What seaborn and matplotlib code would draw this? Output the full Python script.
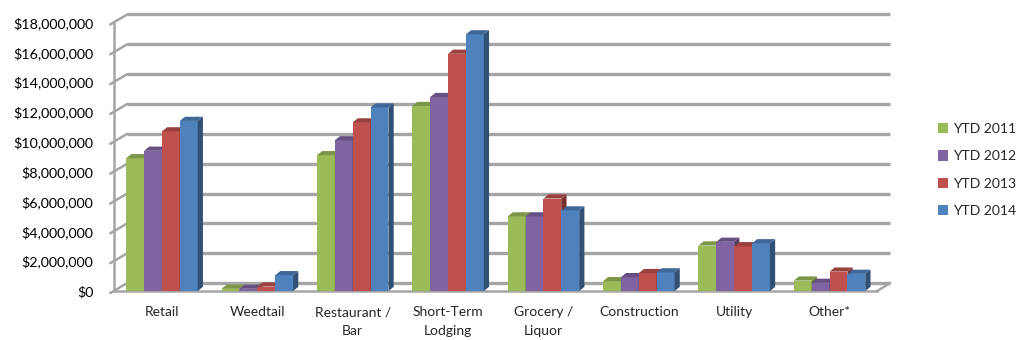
import numpy as np
import pandas as pd
import matplotlib
matplotlib.use("Agg")
import matplotlib.pyplot as plt
import matplotlib.transforms as mtransforms
from matplotlib.patches import Polygon
from matplotlib.ticker import FuncFormatter
import matplotlib.colors as mcolors
import seaborn as sns

categories = ["Retail", "Weedtail", "Restaurant /\nBar", "Short-Term\nLodging",
              "Grocery /\nLiquor", "Construction", "Utility", "Other*"]
series = ["YTD 2011", "YTD 2012", "YTD 2013", "YTD 2014"]
ytd_2011 = [8.9e6, 0.15e6, 9.1e6, 12.4e6, 5.0e6, 0.66e6, 3.05e6, 0.70e6]
ytd_2012 = [9.4e6, 0.15e6, 10.1e6, 13.0e6, 5.0e6, 0.93e6, 3.3e6, 0.55e6]
ytd_2013 = [10.7e6, 0.30e6, 11.3e6, 15.9e6, 6.2e6, 1.2e6, 3.0e6, 1.3e6]
ytd_2014 = [11.4e6, 1.06e6, 12.3e6, 17.2e6, 5.4e6, 1.25e6, 3.2e6, 1.15e6]
colors = ["#9BBB59", "#8064A2", "#C0504D", "#4F81BD"]
y_ticks = [0, 2e6, 4e6, 6e6, 8e6, 10e6, 12e6, 14e6, 16e6, 18e6]

df = pd.DataFrame({
    "Category": categories * 4,
    "Series": sum([[s] * len(categories) for s in series], []),
    "Value": ytd_2011 + ytd_2012 + ytd_2013 + ytd_2014,
})

sns.set_style("white")
plt.rcParams["font.family"] = ["Lato", "DejaVu Sans"]

fig = plt.figure(figsize=(10.2, 3.4), dpi=100)
ax = fig.add_axes([0.112, 0.144, 0.748, 0.79])

sns.barplot(data=df, x="Category", y="Value", hue="Series", palette=colors,
            width=0.75, saturation=1, ax=ax, zorder=3, edgecolor="none")

ax.set_xlim(-0.5, len(categories) - 0.5)
ax.set_ylim(0, 18e6)
ax.set_xlabel("")
ax.set_ylabel("")

grid_c = "#A5A5A5"
back = mtransforms.offset_copy(ax.transData, fig=fig, x=13, y=8, units="dots")
x0, x1 = ax.get_xlim()
inv = ax.transData.inverted()
for v in y_ticks:
    ax.plot([x0, x1], [v, v], transform=back, color=grid_c, lw=2.4,
            zorder=1, clip_on=False, solid_capstyle="butt")
    p_front = ax.transData.transform((x0, v))
    p_back = back.transform((x0, v))
    a = inv.transform(p_front + np.array([-4, -2]))
    b = inv.transform(p_back)
    ax.plot([a[0], b[0]], [a[1], b[1]], color=grid_c, lw=1.8, zorder=1, clip_on=False)
a = inv.transform(ax.transData.transform((x1, 0)))
b = inv.transform(back.transform((x1, 0)))
ax.plot([a[0], b[0]], [a[1], b[1]], color=grid_c, lw=1.8, zorder=1, clip_on=False)

# 3D faces of bars computed from the drawn patches, later series in front
dx = 0.055
dy = 0.28e6
for k, cont in enumerate(ax.containers):
    z = 3 + 0.1 * k
    for p in cont.patches:
        x, w, h = p.get_x(), p.get_width(), p.get_height()
        p.set_zorder(z)
        c = np.array(mcolors.to_rgb(p.get_facecolor()))
        side = Polygon([(x + w, 0), (x + w + dx, dy), (x + w + dx, h + dy), (x + w, h)],
                       closed=True, facecolor=c * 0.62, edgecolor="none", zorder=z)
        top = Polygon([(x, h), (x + dx, h + dy), (x + w + dx, h + dy), (x + w, h)],
                      closed=True, facecolor=c * 0.8, edgecolor="none", zorder=z)
        ax.add_patch(side)
        ax.add_patch(top)

for s in ["top", "right"]:
    ax.spines[s].set_visible(False)
for s in ["left", "bottom"]:
    ax.spines[s].set_color(grid_c)
    ax.spines[s].set_linewidth(1.8)

ax.set_yticks(y_ticks)
ax.yaxis.set_major_formatter(FuncFormatter(lambda v, pos: "${:,.0f}".format(v)))
ax.tick_params(axis="y", length=0, pad=15, labelsize=10.3, colors="#000000")
ax.tick_params(axis="x", which="major", length=0, pad=11, labelsize=10)
ax.set_xticks(np.arange(-0.5, len(categories), 1.0), minor=True)
ax.tick_params(axis="x", which="minor", length=5, color=grid_c, width=1.3)
for t in ax.get_xticklabels():
    t.set_linespacing(1.65)

handles, labels = ax.get_legend_handles_labels()
ax.legend(handles, labels, loc="center left", bbox_to_anchor=(0.914, 0.5),
          bbox_transform=fig.transFigure, frameon=False, fontsize=10,
          handlelength=0.75, handleheight=0.75, handletextpad=0.35,
          labelspacing=1.1, borderaxespad=0)

fig.savefig("out.png", dpi=100)
